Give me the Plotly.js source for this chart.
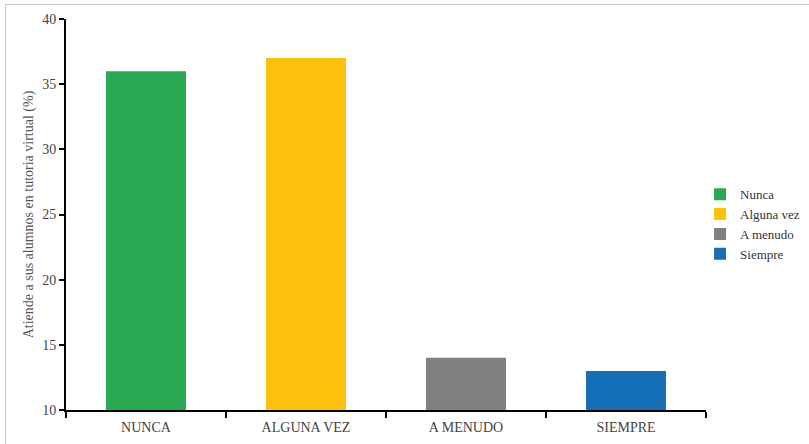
<!DOCTYPE html>
<html>
<head>
<meta charset="utf-8">
<script src="https://cdn.plot.ly/plotly-3.0.1.min.js"></script>
<style>
html,body{margin:0;padding:0;background:#fff;}
#wrap{position:relative;width:809px;height:444px;overflow:hidden;}
#chart{position:absolute;left:0;top:0;width:809px;height:444px;}
#frame{position:absolute;left:5px;top:4px;width:820px;height:460px;border:1px solid #c8c8c8;pointer-events:none;}
</style>
</head>
<body>
<div id="wrap"><div id="chart"></div><div id="frame"></div></div>
<script>
const categories = ["NUNCA", "ALGUNA VEZ", "A MENUDO", "SIEMPRE"];
const legendNames = ["Nunca", "Alguna vez", "A menudo", "Siempre"];
const values = [36, 37, 14, 13];
const colors = ["#2aa853", "#fbc10e", "#808080", "#1570b8"];

const traces = categories.map((c, i) => ({
  type: "bar",
  x: [c],
  y: [values[i]],
  name: legendNames[i],
  marker: {color: colors[i]},
  width: 0.5,
  hoverinfo: "x+y"
}));

const fam = "Liberation Serif, Times New Roman, serif";

const layout = {
  width: 809, height: 444,
  margin: {l: 66, r: 103, t: 19, b: 34},
  paper_bgcolor: "rgba(0,0,0,0)",
  plot_bgcolor: "#fff",
  barmode: "overlay",
  font: {family: fam, size: 14, color: "#444"},
  showlegend: true,
  legend: {xref: "container", yref: "container", x: 0.874, y: 0.495, xanchor: "left", yanchor: "middle",
           indentation: -7,
           font: {family: fam, size: 13, color: "#333"}, itemwidth: 30, bgcolor: "rgba(0,0,0,0)"},
  xaxis: {
    type: "category",
    categoryorder: "array",
    categoryarray: categories,
    range: [-0.5, 3.5],
    showline: true, linecolor: "#000", linewidth: 2,
    ticks: "outside", tickson: "boundaries", ticklen: 6, tickwidth: 2, tickcolor: "#000",
    showgrid: false, zeroline: false, ticklabelstandoff: 3,
    tickfont: {family: fam, size: 14, color: "#444"}
  },
  yaxis: {
    range: [10, 40],
    tickvals: [10, 15, 20, 25, 30, 35, 40],
    showline: true, linecolor: "#000", linewidth: 2,
    ticks: "outside", ticklen: 5, tickwidth: 2, tickcolor: "#000",
    showgrid: false, zeroline: false,
    tickfont: {family: fam, size: 14, color: "#444"},
    title: {text: "Atiende a sus alumnos en tutoria virtual (%)", font: {family: fam, size: 14, color: "#555"}, standoff: 5}
  }
};

Plotly.newPlot("chart", traces, layout, {displayModeBar: false, staticPlot: true});
</script>
</body>
</html>
